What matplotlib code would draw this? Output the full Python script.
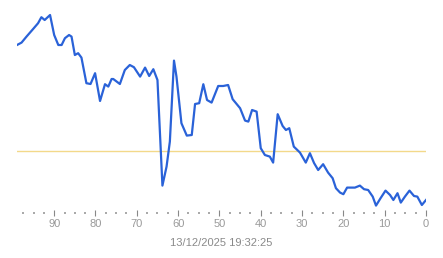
import matplotlib
matplotlib.use("Agg")
import matplotlib.pyplot as plt
from matplotlib.ticker import MultipleLocator

# muestras (x = segundos atrás, y = valor relativo)
xs = [99.0, 97.9, 96.7, 95.1, 93.9, 93.1, 92.3, 91.0, 90.0, 89.0,
      88.2, 87.4, 86.4, 85.8, 85.0, 84.2, 83.4, 82.2, 81.2, 80.1,
      78.9, 77.7, 76.9, 76.1, 75.7, 74.1, 72.9, 71.7, 70.7, 69.2,
      68.0, 67.0, 66.0, 65.0, 63.8, 62.8, 62.0, 61.0, 60.4, 59.2,
      57.9, 56.7, 55.9, 54.9, 53.9, 53.0, 51.9, 50.3, 49.1, 47.9,
      46.8, 45.0, 43.8, 43.0, 42.1, 41.0, 40.0, 39.0, 37.8, 37.0,
      35.9, 34.7, 33.9, 33.1, 32.0, 30.5, 29.1, 28.1, 27.1, 26.1,
      24.9, 23.7, 22.6, 21.8, 20.8, 20.0, 19.1, 17.2, 16.0, 15.0,
      14.0, 12.9, 12.1, 11.0, 9.8, 8.7, 7.9, 6.9, 6.1, 5.1,
      4.0, 2.9, 2.1, 1.0, 0.0]
ys = [84.0, 85.2, 88.2, 92.0, 94.9, 97.9, 96.5, 99.0, 89.0, 84.0,
      84.0, 87.4, 89.0, 88.2, 79.0, 79.9, 77.7, 64.9, 64.5, 69.9,
      56.0, 64.4, 63.2, 67.0, 67.0, 64.5, 71.5, 74.0, 72.9, 68.2,
      72.7, 68.5, 71.9, 66.5, 13.7, 23.2, 35.7, 76.2, 68.2, 44.9,
      38.7, 39.0, 54.5, 54.9, 64.4, 56.5, 55.2, 63.5, 63.5, 64.0,
      56.9, 52.4, 46.2, 45.7, 51.5, 50.7, 32.4, 29.0, 28.2, 25.2,
      49.4, 43.5, 41.5, 42.4, 33.2, 30.2, 25.2, 29.9, 25.0, 21.5,
      24.4, 20.2, 17.4, 12.4, 10.2, 9.4, 12.7, 12.7, 13.7, 11.9,
      11.5, 8.2, 3.7, 7.4, 11.2, 9.0, 6.5, 9.9, 5.2, 8.2,
      11.2, 8.5, 8.2, 4.0, 6.5]
umbral = 31.0
etiqueta = "13/12/2025 19:32:25"

plt.rcParams["font.family"] = ["Liberation Sans", "DejaVu Sans"]

fig = plt.figure(figsize=(4.43, 2.58), dpi=100)
ax = fig.add_axes([17 / 443, 45 / 258, 409 / 443, 213 / 258])

ax.axhline(umbral, color="#f3d98a", lw=1.0, zorder=1)
ax.plot(xs, ys, color="#2a62d8", lw=1.6, zorder=2)

ax.set_xlim(99, 0)
ax.set_ylim(0, 106.5)

for s in ax.spines.values():
    s.set_visible(False)
ax.set_yticks([])

ax.xaxis.set_major_locator(MultipleLocator(10))
ax.xaxis.set_minor_locator(MultipleLocator(2.5))
ax.tick_params(axis="x", which="major", direction="inout", length=5, width=0.8,
               color="#888888", labelcolor="#9a9a9a", labelsize=8, pad=2)
ax.tick_params(axis="x", which="minor", direction="inout", length=1.2, width=1.2,
               color="#9a9a9a")
ax.set_xlabel(etiqueta, color="#8a8a8a", fontsize=8, labelpad=6)

fig.savefig("out.png", dpi=100)
